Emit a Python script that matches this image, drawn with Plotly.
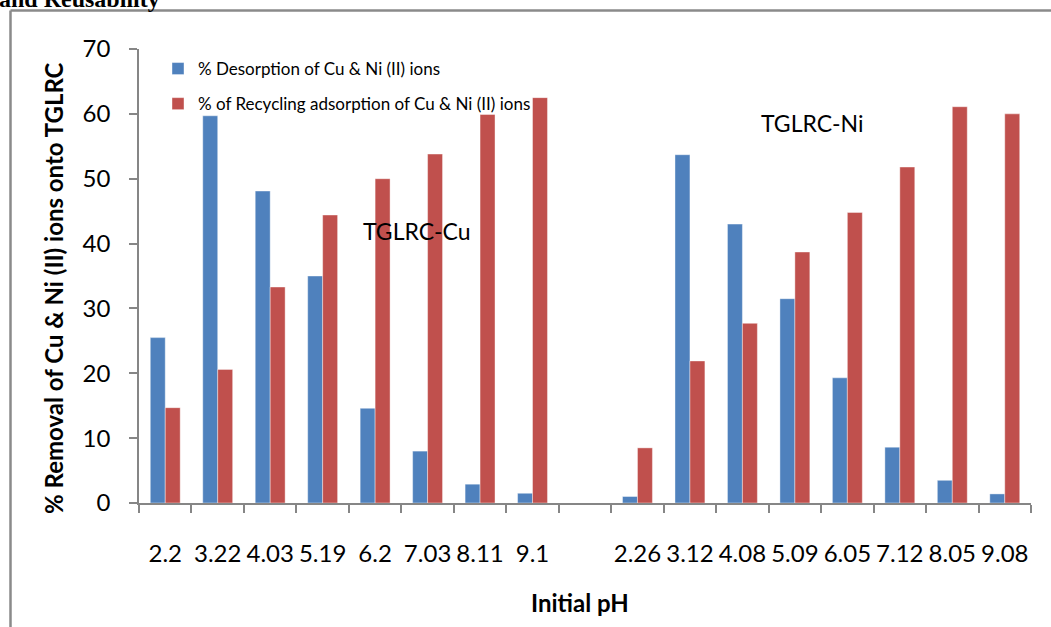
import plotly.graph_objects as go

# ---- data ----
ph_labels = ["2.2", "3.22", "4.03", "5.19", "6.2", "7.03", "8.11", "9.1", "",
             "2.26", "3.12", "4.08", "5.09", "6.05", "7.12", "8.05", "9.08"]
desorption = [25.5, 59.7, 48.1, 35.0, 14.6, 8.0, 2.9, 1.5, None,
              1.0, 53.7, 43.0, 31.5, 19.3, 8.6, 3.5, 1.4]
recycling = [14.7, 20.6, 33.3, 44.4, 50.0, 53.8, 59.9, 62.5, None,
             8.5, 21.9, 27.7, 38.7, 44.8, 51.8, 61.1, 60.0]
series_names = ["% Desorption of Cu & Ni (II) ions",
                "% of Recycling adsorption of Cu & Ni (II) ions"]
y_ticks = [0, 10, 20, 30, 40, 50, 60, 70]

W, H = 1051, 627
L, R, T, B = 139, 20, 49, 124
pw, ph = W - L - R, H - T - B

def px(xp):
    return (xp - L) / pw

def py(yp):
    return (H - B - yp) / ph

positions = list(range(len(ph_labels)))
FONT = "Lato"
AXC = "#868686"

fig = go.Figure()
fig.add_trace(go.Bar(x=positions, y=desorption, name=series_names[0],
                     marker=dict(color="#4F81BD", line=dict(color="rgba(255,255,255,0.5)", width=0.8)),
                     legendgroup="a"))
fig.add_trace(go.Bar(x=positions, y=recycling, name=series_names[1],
                     marker=dict(color="#C0504D", line=dict(color="rgba(255,255,255,0.5)", width=0.8)),
                     legendgroup="b"))

fig.update_layout(
    width=W, height=H,
    margin=dict(l=L, r=R, t=T, b=B, pad=0),
    paper_bgcolor="white", plot_bgcolor="white",
    barmode="group", bargap=0.43, bargroupgap=0,
    font=dict(family=FONT, color="black"),
    showlegend=True,
    legend=dict(x=px(158), y=py(51), xanchor="left", yanchor="top",
                font=dict(size=17, family=FONT), tracegroupgap=10,
                bgcolor="rgba(0,0,0,0)"),
    xaxis=dict(range=[-0.5, len(ph_labels) - 0.5], tickmode="array",
               tickvals=positions, ticktext=ph_labels, ticks="",
               tickfont=dict(size=24, family=FONT), ticklabelstandoff=28,
               showline=True, linecolor=AXC, linewidth=1.5, showgrid=False,
               zeroline=False,
               minor=dict(tickmode="array",
                          tickvals=[p - 0.5 for p in positions] + [positions[-1] + 0.5],
                          ticks="outside", ticklen=8, tickcolor=AXC, tickwidth=1.5,
                          showgrid=False)),
    yaxis=dict(range=[0, 70], tickmode="array", tickvals=y_ticks,
               ticks="outside", ticklen=8, tickcolor=AXC, tickwidth=1.5,
               tickfont=dict(size=24, family=FONT), ticklabelstandoff=14,
               showline=True, linecolor=AXC, linewidth=1.5, showgrid=False,
               zeroline=False),
)

ann = [
    dict(text="<b>% Removal of Cu & Ni (II) ions onto TGLRC</b>", x=px(53), y=py(288),
         textangle=-90, font=dict(size=24, family=FONT)),
    dict(text="<b>Initial pH</b>", x=px(580), y=py(602), font=dict(size=24, family=FONT)),
    dict(text="TGLRC-Cu", x=px(417), y=py(231), font=dict(size=23, family=FONT)),
    dict(text="TGLRC-Ni", x=px(812), y=py(123), font=dict(size=23, family=FONT)),
    dict(text="<b>and Reusability</b>", x=px(-3), y=py(-1), xanchor="left", yanchor="middle",
         font=dict(size=24, family="Liberation Serif")),
]
for a in ann:
    a.setdefault("xanchor", "center")
    a.setdefault("yanchor", "middle")
    fig.add_annotation(xref="paper", yref="paper", showarrow=False, **a)

# page frame lines
fig.add_shape(type="line", xref="paper", yref="paper", x0=px(10.5), x1=px(1060),
              y0=py(10.5), y1=py(10.5), line=dict(color="#8a8a8a", width=2.5))
fig.add_shape(type="line", xref="paper", yref="paper", x0=px(10.5), x1=px(10.5),
              y0=py(10.5), y1=py(640), line=dict(color="#8a8a8a", width=2.5))

fig.write_html("out.html", config={"displayModeBar": False},
               post_script="document.body.style.margin='0';document.body.style.overflow='hidden';")
